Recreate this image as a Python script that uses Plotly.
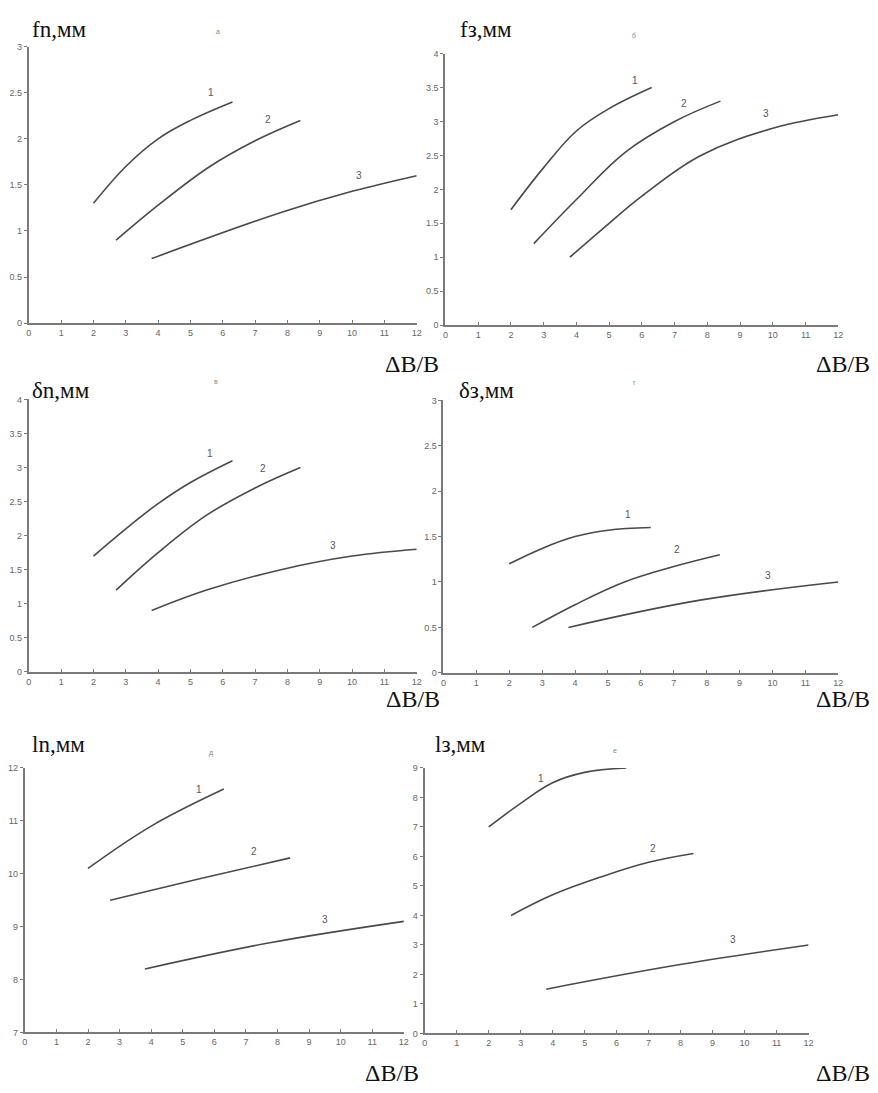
import plotly.graph_objects as go

WIN_W, WIN_H = 878, 1093
OFF = 8                      # default page body margin
W, H = WIN_W - 2 * OFF, WIN_H - 2 * OFF

# ---------------- data ----------------
# panel а : fn, мм
a1_x = [2, 3, 4, 5, 6.3]
a1_y = [1.3, 1.7, 2.0, 2.2, 2.4]
a2_x = [2.7, 4, 5.6, 7, 8.4]
a2_y = [0.9, 1.28, 1.7, 1.98, 2.2]
a3_x = [3.8, 7.8, 10, 12]
a3_y = [0.7, 1.2, 1.43, 1.6]

# panel б : fз, мм
b1_x = [2, 3, 4, 5, 6.3]
b1_y = [1.7, 2.32, 2.86, 3.19, 3.5]
b2_x = [2.7, 4, 5.5, 7, 8.4]
b2_y = [1.2, 1.85, 2.55, 3.0, 3.3]
b3_x = [3.8, 5, 6, 7.8, 10, 12]
b3_y = [1.0, 1.5, 1.9, 2.5, 2.9, 3.1]

# panel в : δn, мм
c1_x = [2, 3, 4, 5, 6.3]
c1_y = [1.7, 2.1, 2.47, 2.78, 3.1]
c2_x = [2.7, 4, 5.5, 7, 8.4]
c2_y = [1.2, 1.75, 2.3, 2.7, 3.0]
c3_x = [3.8, 5.5, 7.8, 10, 12]
c3_y = [0.9, 1.2, 1.5, 1.7, 1.8]

# panel г : δз, мм
d1_x = [2, 3, 4, 5, 6.3]
d1_y = [1.2, 1.37, 1.5, 1.57, 1.6]
d2_x = [2.7, 4, 5.5, 7, 8.4]
d2_y = [0.5, 0.75, 1.0, 1.17, 1.3]
d3_x = [3.8, 7.8, 12]
d3_y = [0.5, 0.8, 1.0]

# panel д : ln, мм
e1_x = [2, 4, 6.3]
e1_y = [10.1, 10.9, 11.6]
e2_x = [2.7, 5.5, 8.4]
e2_y = [9.5, 9.9, 10.3]
e3_x = [3.8, 7.8, 12]
e3_y = [8.2, 8.7, 9.1]

# panel е : lз, мм
f1_x = [2, 3, 4, 5, 6.3]
f1_y = [7.0, 7.8, 8.5, 8.85, 9.0]
f2_x = [2.7, 4, 5.5, 7, 8.4]
f2_y = [4.0, 4.7, 5.3, 5.8, 6.1]
f3_x = [3.8, 7.8, 12]
f3_y = [1.5, 2.3, 3.0]

curve_names = ["1", "2", "3"]
y_titles = ["fn,мм", "fз,мм", "δn,мм", "δз,мм", "ln,мм", "lз,мм"]
panel_letters = ["а", "б", "в", "г", "д", "е"]
x_title = "ΔB/B"
y_ranges = [(0, 3), (0, 4), (0, 4), (0, 3), (7, 12), (0, 9)]
y_dticks = [0.5, 0.5, 0.5, 0.5, 1, 1]
x_ticks = list(range(0, 13))

series = [
    [(a1_x, a1_y), (a2_x, a2_y), (a3_x, a3_y)],
    [(b1_x, b1_y), (b2_x, b2_y), (b3_x, b3_y)],
    [(c1_x, c1_y), (c2_x, c2_y), (c3_x, c3_y)],
    [(d1_x, d1_y), (d2_x, d2_y), (d3_x, d3_y)],
    [(e1_x, e1_y), (e2_x, e2_y), (e3_x, e3_y)],
    [(f1_x, f1_y), (f2_x, f2_y), (f3_x, f3_y)],
]

# curve label positions (data coords)
label_pos = [
    [(5.65, 2.42), (7.4, 2.13), (10.2, 1.52)],
    [(5.8, 3.5), (7.3, 3.16), (9.8, 3.0)],
    [(5.6, 3.1), (7.25, 2.88), (9.4, 1.75)],
    [(5.6, 1.66), (7.1, 1.28), (9.85, 0.99)],
    [(5.5, 11.45), (7.25, 10.27), (9.5, 9.0)],
    [(3.65, 8.4), (7.15, 6.0), (9.65, 2.92)],
]

# ---------------- layout (pixel boxes in the window) ----------------
# (x at 0, x at 12, y at top of range, y at bottom of range)
boxes = [
    (25, 417, 42, 321),
    (446, 843, 49, 323),
    (25, 417, 398, 673),
    (444, 843, 399, 674),
    (21, 404, 770, 1037),
    (425, 813, 770, 1038),
]
ytitle_px = [(26, 25), (459, 25), (26, 389), (458, 389), (26, 746), (433, 746)]
xtitle_px = [(442, 362), (877, 362), (443, 700), (877, 700), (421, 1078), (877, 1078)]
letter_px = [(216, 27), (637, 31), (214, 380), (637, 381), (209, 755), (617, 752)]

def px(xp):
    return (xp - OFF) / W

def py(yp):
    return 1 - (yp - OFF) / H

fig = go.Figure()
line_color = "#4a4a4a"
axis_color = "#7a7a7a"
tick_font = dict(family="Liberation Sans, Arial, sans-serif", size=9, color="#666666")
annotations = []

for i in range(6):
    n = i + 1
    xa = "x" if n == 1 else f"x{n}"
    ya = "y" if n == 1 else f"y{n}"
    for k, (xs, ys) in enumerate(series[i]):
        fig.add_trace(go.Scatter(
            x=xs, y=ys, mode="lines", xaxis=xa, yaxis=ya,
            line=dict(color=line_color, width=1.6, shape="spline", smoothing=1.1),
            showlegend=False, hoverinfo="skip"))
        lx, ly = label_pos[i][k]
        annotations.append(dict(
            x=lx, y=ly, xref=xa, yref=ya, text=curve_names[k], showarrow=False,
            font=dict(family="Liberation Sans, Arial, sans-serif", size=10, color="#555555"),
            xanchor="center", yanchor="bottom"))
    x0, x12, yt, yb = boxes[i]
    key_x = "xaxis" if n == 1 else f"xaxis{n}"
    key_y = "yaxis" if n == 1 else f"yaxis{n}"
    fig.layout[key_x] = dict(
        domain=[px(x0), px(x12)], range=[0, 12], anchor=ya,
        tickmode="array", tickvals=x_ticks, ticktext=[str(t) for t in x_ticks],
        showline=True, linecolor=axis_color, linewidth=2,
        ticks="inside", ticklen=3, tickcolor=axis_color, tickwidth=1,
        showgrid=False, zeroline=False, tickfont=tick_font, fixedrange=True)
    y0, y1 = y_ranges[i]
    fig.layout[key_y] = dict(
        domain=[py(yb), py(yt)], range=[y0, y1], anchor=xa,
        dtick=y_dticks[i], tick0=y0,
        showline=True, linecolor=axis_color, linewidth=2,
        ticks="outside", ticklen=3, tickcolor=axis_color, tickwidth=1,
        showgrid=False, zeroline=False, tickfont=tick_font, fixedrange=True)
    tx, ty = ytitle_px[i]
    annotations.append(dict(
        x=px(tx), y=py(ty), xref="paper", yref="paper", text=y_titles[i],
        showarrow=False, xanchor="left", yanchor="middle",
        font=dict(family="Liberation Serif, Times New Roman, serif", size=23, color="#111111")))
    xx, xy = xtitle_px[i]
    annotations.append(dict(
        x=px(xx), y=py(xy), xref="paper", yref="paper", text=x_title,
        showarrow=False, xanchor="right", yanchor="middle",
        font=dict(family="Liberation Serif, Times New Roman, serif", size=24, color="#111111")))
    lxp, lyp = letter_px[i]
    annotations.append(dict(
        x=px(lxp), y=py(lyp), xref="paper", yref="paper", text=panel_letters[i],
        showarrow=False, xanchor="center", yanchor="middle",
        font=dict(family="Liberation Sans, Arial, sans-serif", size=7, color="#888888")))

fig.update_layout(
    width=W, height=H, margin=dict(l=0, r=0, t=0, b=0),
    paper_bgcolor="white", plot_bgcolor="white",
    annotations=annotations, showlegend=False)

fig.write_html("out.html")
